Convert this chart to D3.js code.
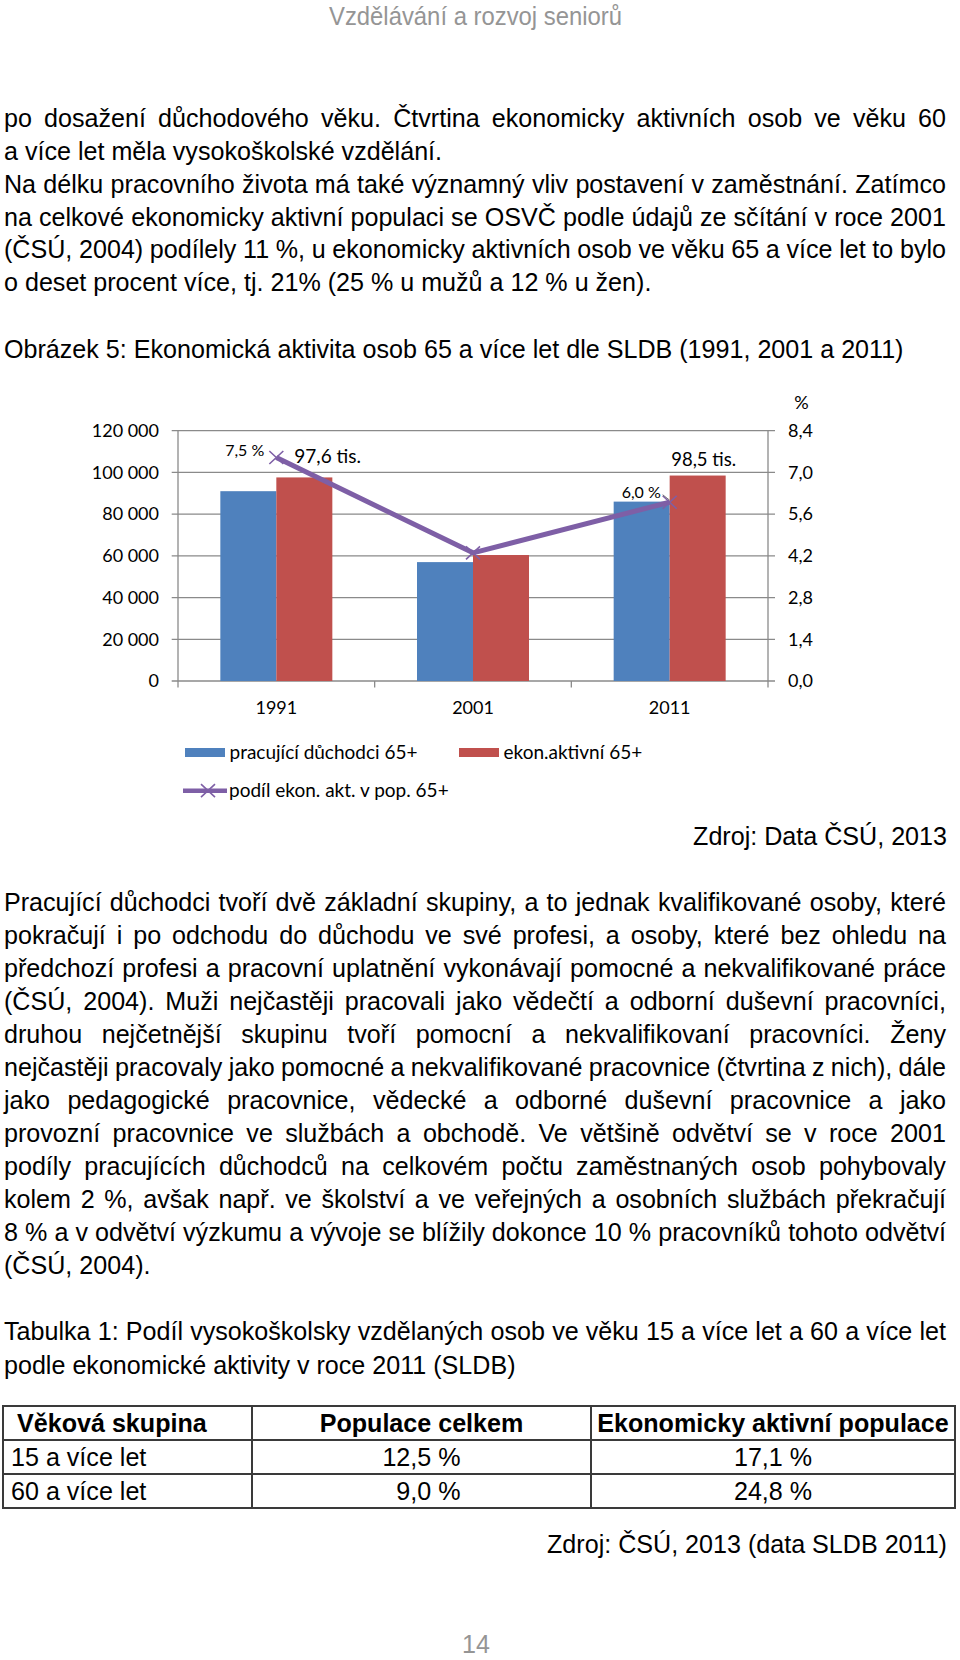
<!DOCTYPE html>
<html><head><meta charset="utf-8">
<script src="https://cdn.jsdelivr.net/npm/d3@7"></script>
<style>body{margin:0;background:#fff} svg{display:block}</style>
</head><body>
<svg id="page" width="960" height="1660"></svg>
<script>
// ---------- DATA ----------
const years = ["1991", "2001", "2011"];
const pracujiciDuchodci = [91000, 57000, 86000];
const ekonAktivni = [97600, 60400, 98500];
const podilEkonAkt = [7.5, 4.3, 6.0];
const leftTicks = [0, 20000, 40000, 60000, 80000, 100000, 120000];
const rightTicks = [0, 1.4, 2.8, 4.2, 5.6, 7.0, 8.4];
const seriesNames = ["pracující důchodci 65+", "ekon.aktivní 65+", "podíl ekon. akt. v pop. 65+"];
const pctLabels = ["7,5 %", null, "6,0 %"];
const tisLabels = ["97,6 tis.", null, "98,5 tis."];
const rightAxisTitle = "%";

const pageHeader = "Vzdělávání a rozvoj seniorů";
const pageNumber = "14";
const paragraph1 = [
  "po dosažení důchodového věku. Čtvrtina ekonomicky aktivních osob ve věku 60",
  "a více let měla vysokoškolské vzdělání.",
  "Na délku pracovního života má také významný vliv postavení v zaměstnání. Zatímco",
  "na celkové ekonomicky aktivní populaci se OSVČ podle údajů ze sčítání v roce 2001",
  "(ČSÚ, 2004) podílely 11 %, u ekonomicky aktivních osob ve věku 65 a více let to bylo",
  "o deset procent více, tj. 21% (25 % u mužů a 12 % u žen)."
];
const paragraph1Justified = [true, false, true, true, true, false];
const figureCaption = "Obrázek 5: Ekonomická aktivita osob 65 a více let dle SLDB (1991, 2001 a 2011)";
const figureSource = "Zdroj: Data ČSÚ, 2013";
const paragraph2 = [
  "Pracující důchodci tvoří dvě základní skupiny, a to jednak kvalifikované osoby, které",
  "pokračují i po odchodu do důchodu ve své profesi, a osoby, které bez ohledu na",
  "předchozí profesi a pracovní uplatnění vykonávají pomocné a nekvalifikované práce",
  "(ČSÚ, 2004). Muži nejčastěji pracovali jako vědečtí a odborní duševní pracovníci,",
  "druhou nejčetnější skupinu tvoří pomocní a nekvalifikovaní pracovníci. Ženy",
  "nejčastěji pracovaly jako pomocné a nekvalifikované pracovnice (čtvrtina z nich), dále",
  "jako pedagogické pracovnice, vědecké a odborné duševní pracovnice a jako",
  "provozní pracovnice ve službách a obchodě. Ve většině odvětví se v roce 2001",
  "podíly pracujících důchodců na celkovém počtu zaměstnaných osob pohybovaly",
  "kolem 2 %, avšak např. ve školství a ve veřejných a osobních službách překračují",
  "8 % a v odvětví výzkumu a vývoje se blížily dokonce 10 % pracovníků tohoto odvětví",
  "(ČSÚ, 2004)."
];
const tableCaption = [
  "Tabulka 1: Podíl vysokoškolsky vzdělaných osob ve věku 15 a více let a 60 a více let",
  "podle ekonomické aktivity v roce 2011 (SLDB)"
];
const tableHeader = ["Věková skupina", "Populace celkem", "Ekonomicky aktivní populace"];
const tableAgeGroups = ["15 a více let", "60 a více let"];
const tablePopulaceCelkem = ["12,5 %", "\u00a0 9,0 %"];
const tableEkonAktivni = ["17,1 %", "24,8 %"];
const tableSource = "Zdroj: ČSÚ, 2013 (data SLDB 2011)";

// ---------- SETUP ----------
const svg = d3.select("#page");
const FONT = "'Liberation Sans', Arial, Helvetica, sans-serif";
const CFONT = "Lato, 'Open Sans', sans-serif";
const FS = 26;
const measureG = svg.append("g").attr("visibility", "hidden");
function measure(str, size, weight) {
  const t = measureG.append("text").attr("font-family", FONT).attr("font-size", size)
    .attr("font-weight", weight || "normal").style("white-space", "pre").text(str);
  const w = t.node().getComputedTextLength();
  t.remove();
  return w;
}
// horizontal condensation of body font (calibrated on unjustified lines)
const calib = [[paragraph1[1], 436], [paragraph1[5], 650], [figureCaption, 900]];
const sx = d3.sum(calib, d => d[1]) / d3.sum(calib, d => measure(d[0], FS));

const bodyG = svg.append("g").attr("transform", `scale(${sx},1)`);
function drawLine(str, xPos, y, opt = {}) {
  const size = opt.size || FS, weight = opt.weight || "normal";
  const t = bodyG.append("text").attr("y", y).attr("font-family", FONT)
    .attr("font-size", size).attr("font-weight", weight).attr("fill", opt.fill || "#000")
    .style("white-space", "pre");
  if (opt.justify) {
    const words = str.split(" ");
    const ws = words.map(w => measure(w, size, weight));
    const gap = (opt.justify / sx - d3.sum(ws)) / (words.length - 1);
    let cx = xPos / sx;
    words.forEach((w, i) => { t.append("tspan").attr("x", cx).text(w); cx += ws[i] + gap; });
  } else {
    t.attr("x", xPos / sx).attr("text-anchor", opt.anchor || "start").text(str);
  }
  return t;
}

const LEFT = 4, FULLW = 942, RIGHT = 947;
paragraph1.forEach((s, i) => drawLine(s, LEFT, 127.3 + i * 32.8, { justify: paragraph1Justified[i] ? FULLW : 0 }));
drawLine(figureCaption, LEFT, 357.8);
drawLine(figureSource, RIGHT, 845.5, { anchor: "end" });
paragraph2.forEach((s, i) => drawLine(s, LEFT, 911.3 + i * 33.0, { justify: i < paragraph2.length - 1 ? FULLW : 0 }));
drawLine(tableCaption[0], LEFT, 1340, { justify: FULLW });
drawLine(tableCaption[1], LEFT, 1373.8);

// page header & number (gray, condensed)
const hdrW = measure(pageHeader, 25);
const hsx = 293 / hdrW;
svg.append("text").attr("x", 329).attr("y", 25).attr("font-family", FONT).attr("font-size", 25)
  .attr("fill", "#959595").attr("textLength", 293).attr("lengthAdjust", "spacingAndGlyphs").text(pageHeader);
const pnW = measure(pageNumber, 25) * hsx * 1.05;
svg.append("text").attr("x", 476 - pnW / 2).attr("y", 1653).attr("font-family", FONT).attr("font-size", 25)
  .attr("fill", "#959595").attr("textLength", pnW).attr("lengthAdjust", "spacingAndGlyphs").text(pageNumber);

// ---------- TABLE ----------
const colEdges = [3, 252, 591, 955];
const rowEdges = [1406, 1440, 1474, 1508];
const tg = svg.append("g");
tg.selectAll("line.h").data(rowEdges).join("line")
  .attr("x1", colEdges[0] - 1).attr("x2", colEdges[3] + 1).attr("y1", d => d).attr("y2", d => d)
  .attr("stroke", "#3a3a3a").attr("stroke-width", 2);
tg.selectAll("line.v").data(colEdges).join("line")
  .attr("y1", rowEdges[0]).attr("y2", rowEdges[3]).attr("x1", d => d).attr("x2", d => d)
  .attr("stroke", "#3a3a3a").attr("stroke-width", 2);
const rowBase = i => (rowEdges[i] + rowEdges[i + 1]) / 2 + 9.5;
const colMid = c => (colEdges[c] + colEdges[c + 1]) / 2;
drawLine(tableHeader[0], 17, rowBase(0), { weight: "bold" });
drawLine(tableHeader[1], colMid(1), rowBase(0), { weight: "bold", anchor: "middle" });
drawLine(tableHeader[2], colMid(2), rowBase(0), { weight: "bold", anchor: "middle" });
tableAgeGroups.forEach((s, i) => drawLine(s, 11, rowBase(i + 1)));
tablePopulaceCelkem.forEach((s, i) => drawLine(s, colMid(1), rowBase(i + 1), { anchor: "middle" }));
tableEkonAktivni.forEach((s, i) => drawLine(s, colMid(2), rowBase(i + 1), { anchor: "middle" }));
drawLine(tableSource, RIGHT, 1553.5, { anchor: "end" });

// ---------- CHART ----------
const gC = svg.append("g");
const x = d3.scaleBand().domain(years).range([178, 768]);
const xs = d3.scaleBand().domain([0, 1]).range([0, x.bandwidth()]).paddingOuter(0.756);
const yL = d3.scaleLinear().domain([0, 120000]).range([681, 430.7]);
const yR = d3.scaleLinear().domain([0, 8.4]).range([681, 430.7]);
const GRID = "#8a8a8a";

gC.selectAll("line.grid").data(leftTicks).join("line").attr("class", "grid")
  .attr("x1", 171.7).attr("x2", 775).attr("y1", d => yL(d)).attr("y2", d => yL(d))
  .attr("stroke", GRID).attr("stroke-width", 1.3);
[x.range()[0], x.range()[1]].forEach(px =>
  gC.append("line").attr("x1", px).attr("x2", px).attr("y1", yL(120000)).attr("y2", yL(0))
    .attr("stroke", GRID).attr("stroke-width", 1.3));
const boundaries = years.map(d => x(d)).concat([x.range()[1]]);
gC.selectAll("line.xt").data(boundaries).join("line").attr("class", "xt")
  .attr("x1", d => d).attr("x2", d => d).attr("y1", yL(0)).attr("y2", yL(0) + 6.5)
  .attr("stroke", GRID).attr("stroke-width", 1.3);

const fmtL = d => d3.format(",")(d).replace(/,/g, " ");
const fmtR = d => d3.format(".1f")(d).replace(".", ",");
gC.append("g").attr("transform", `translate(${x.range()[0]},0)`)
  .call(d3.axisLeft(yL).tickValues(leftTicks).tickSize(0).tickPadding(19).tickFormat(fmtL))
  .call(g => g.select(".domain").remove())
  .attr("font-family", CFONT).attr("font-size", 18)
  .selectAll("text").attr("fill", "#000");
gC.append("g").attr("transform", `translate(${x.range()[1]},0)`)
  .call(d3.axisRight(yR).tickValues(rightTicks).tickSize(0).tickPadding(20).tickFormat(fmtR))
  .call(g => g.select(".domain").remove())
  .attr("font-family", CFONT).attr("font-size", 18)
  .selectAll("text").attr("fill", "#000");
gC.append("g").attr("transform", `translate(0,${yL(0)})`)
  .call(d3.axisBottom(x).tickSize(0).tickPadding(20.7))
  .call(g => g.select(".domain").remove())
  .attr("font-family", CFONT).attr("font-size", 18)
  .selectAll("text").attr("fill", "#000");
gC.append("text").attr("x", 801.5).attr("y", 409).attr("text-anchor", "middle")
  .attr("font-family", CFONT).attr("font-size", 18).text(rightAxisTitle);

const barSeries = [pracujiciDuchodci, ekonAktivni];
const barColors = ["#4F81BD", "#C0504D"];
barSeries.forEach((vals, si) => {
  gC.selectAll(`rect.s${si}`).data(vals).join("rect").attr("class", `s${si}`)
    .attr("x", (d, i) => x(years[i]) + xs(si)).attr("width", xs.bandwidth())
    .attr("y", d => yL(d)).attr("height", d => yL(0) - yL(d)).attr("fill", barColors[si]);
});

const LINEC = "#7E5FA6";
const cx = i => x(years[i]) + x.bandwidth() / 2;
gC.append("path").datum(podilEkonAkt)
  .attr("d", d3.line().x((d, i) => cx(i)).y(d => yR(d)))
  .attr("fill", "none").attr("stroke", LINEC).attr("stroke-width", 5).attr("stroke-linejoin", "round");
const xMark = "M-7,-6.5L7,6.5M-7,6.5L7,-6.5";
gC.selectAll("path.mk").data(podilEkonAkt).join("path").attr("class", "mk")
  .attr("transform", (d, i) => `translate(${cx(i)},${yR(d)})`).attr("d", xMark)
  .attr("fill", "none").attr("stroke", LINEC).attr("stroke-width", 1.6);

// data labels
const lbl = (t, px, py, size, anchor) => gC.append("text").attr("x", px).attr("y", py)
  .attr("font-family", CFONT).attr("font-size", size).attr("text-anchor", anchor || "start").text(t);
// 1991
lbl(pctLabels[0], cx(0) - 12, yR(podilEkonAkt[0]) - 1.5, 16, "end");
lbl(tisLabels[0], x(years[0]) + xs(1) + 18, yL(ekonAktivni[0]) - 14, 19);
// 2011
lbl(pctLabels[2], cx(2) - 48, yR(podilEkonAkt[2]) - 4, 16);
gC.append("line").attr("x1", cx(2) - 7).attr("y1", yR(podilEkonAkt[2]) - 7.5)
  .attr("x2", cx(2)).attr("y2", yR(podilEkonAkt[2]) - 2).attr("stroke", "#555").attr("stroke-width", 0.8);
lbl(tisLabels[2], x(years[2]) + xs(1) + xs.bandwidth() / 2 + 6, yL(ekonAktivni[2]) - 10, 18.5, "middle");

// legend
const lg = svg.append("g").attr("font-family", CFONT).attr("font-size", 19);
const legendPos = [[185, 752.5], [459, 752.5], [185, 790.7]];
[0, 1].forEach(i => {
  lg.append("rect").attr("x", legendPos[i][0]).attr("y", legendPos[i][1] - 4.5).attr("width", 40).attr("height", 9)
    .attr("fill", barColors[i]);
  lg.append("text").attr("x", legendPos[i][0] + 44.5).attr("y", legendPos[i][1]).attr("dy", "0.35em").text(seriesNames[i]);
});
lg.append("line").attr("x1", 183).attr("x2", 227).attr("y1", legendPos[2][1]).attr("y2", legendPos[2][1])
  .attr("stroke", LINEC).attr("stroke-width", 4.5);
lg.append("path").attr("transform", `translate(208,${legendPos[2][1]})`).attr("d", xMark)
  .attr("fill", "none").attr("stroke", LINEC).attr("stroke-width", 1.6);
lg.append("text").attr("x", 229).attr("y", legendPos[2][1]).attr("dy", "0.35em").text(seriesNames[2]);
</script>
</body></html>
